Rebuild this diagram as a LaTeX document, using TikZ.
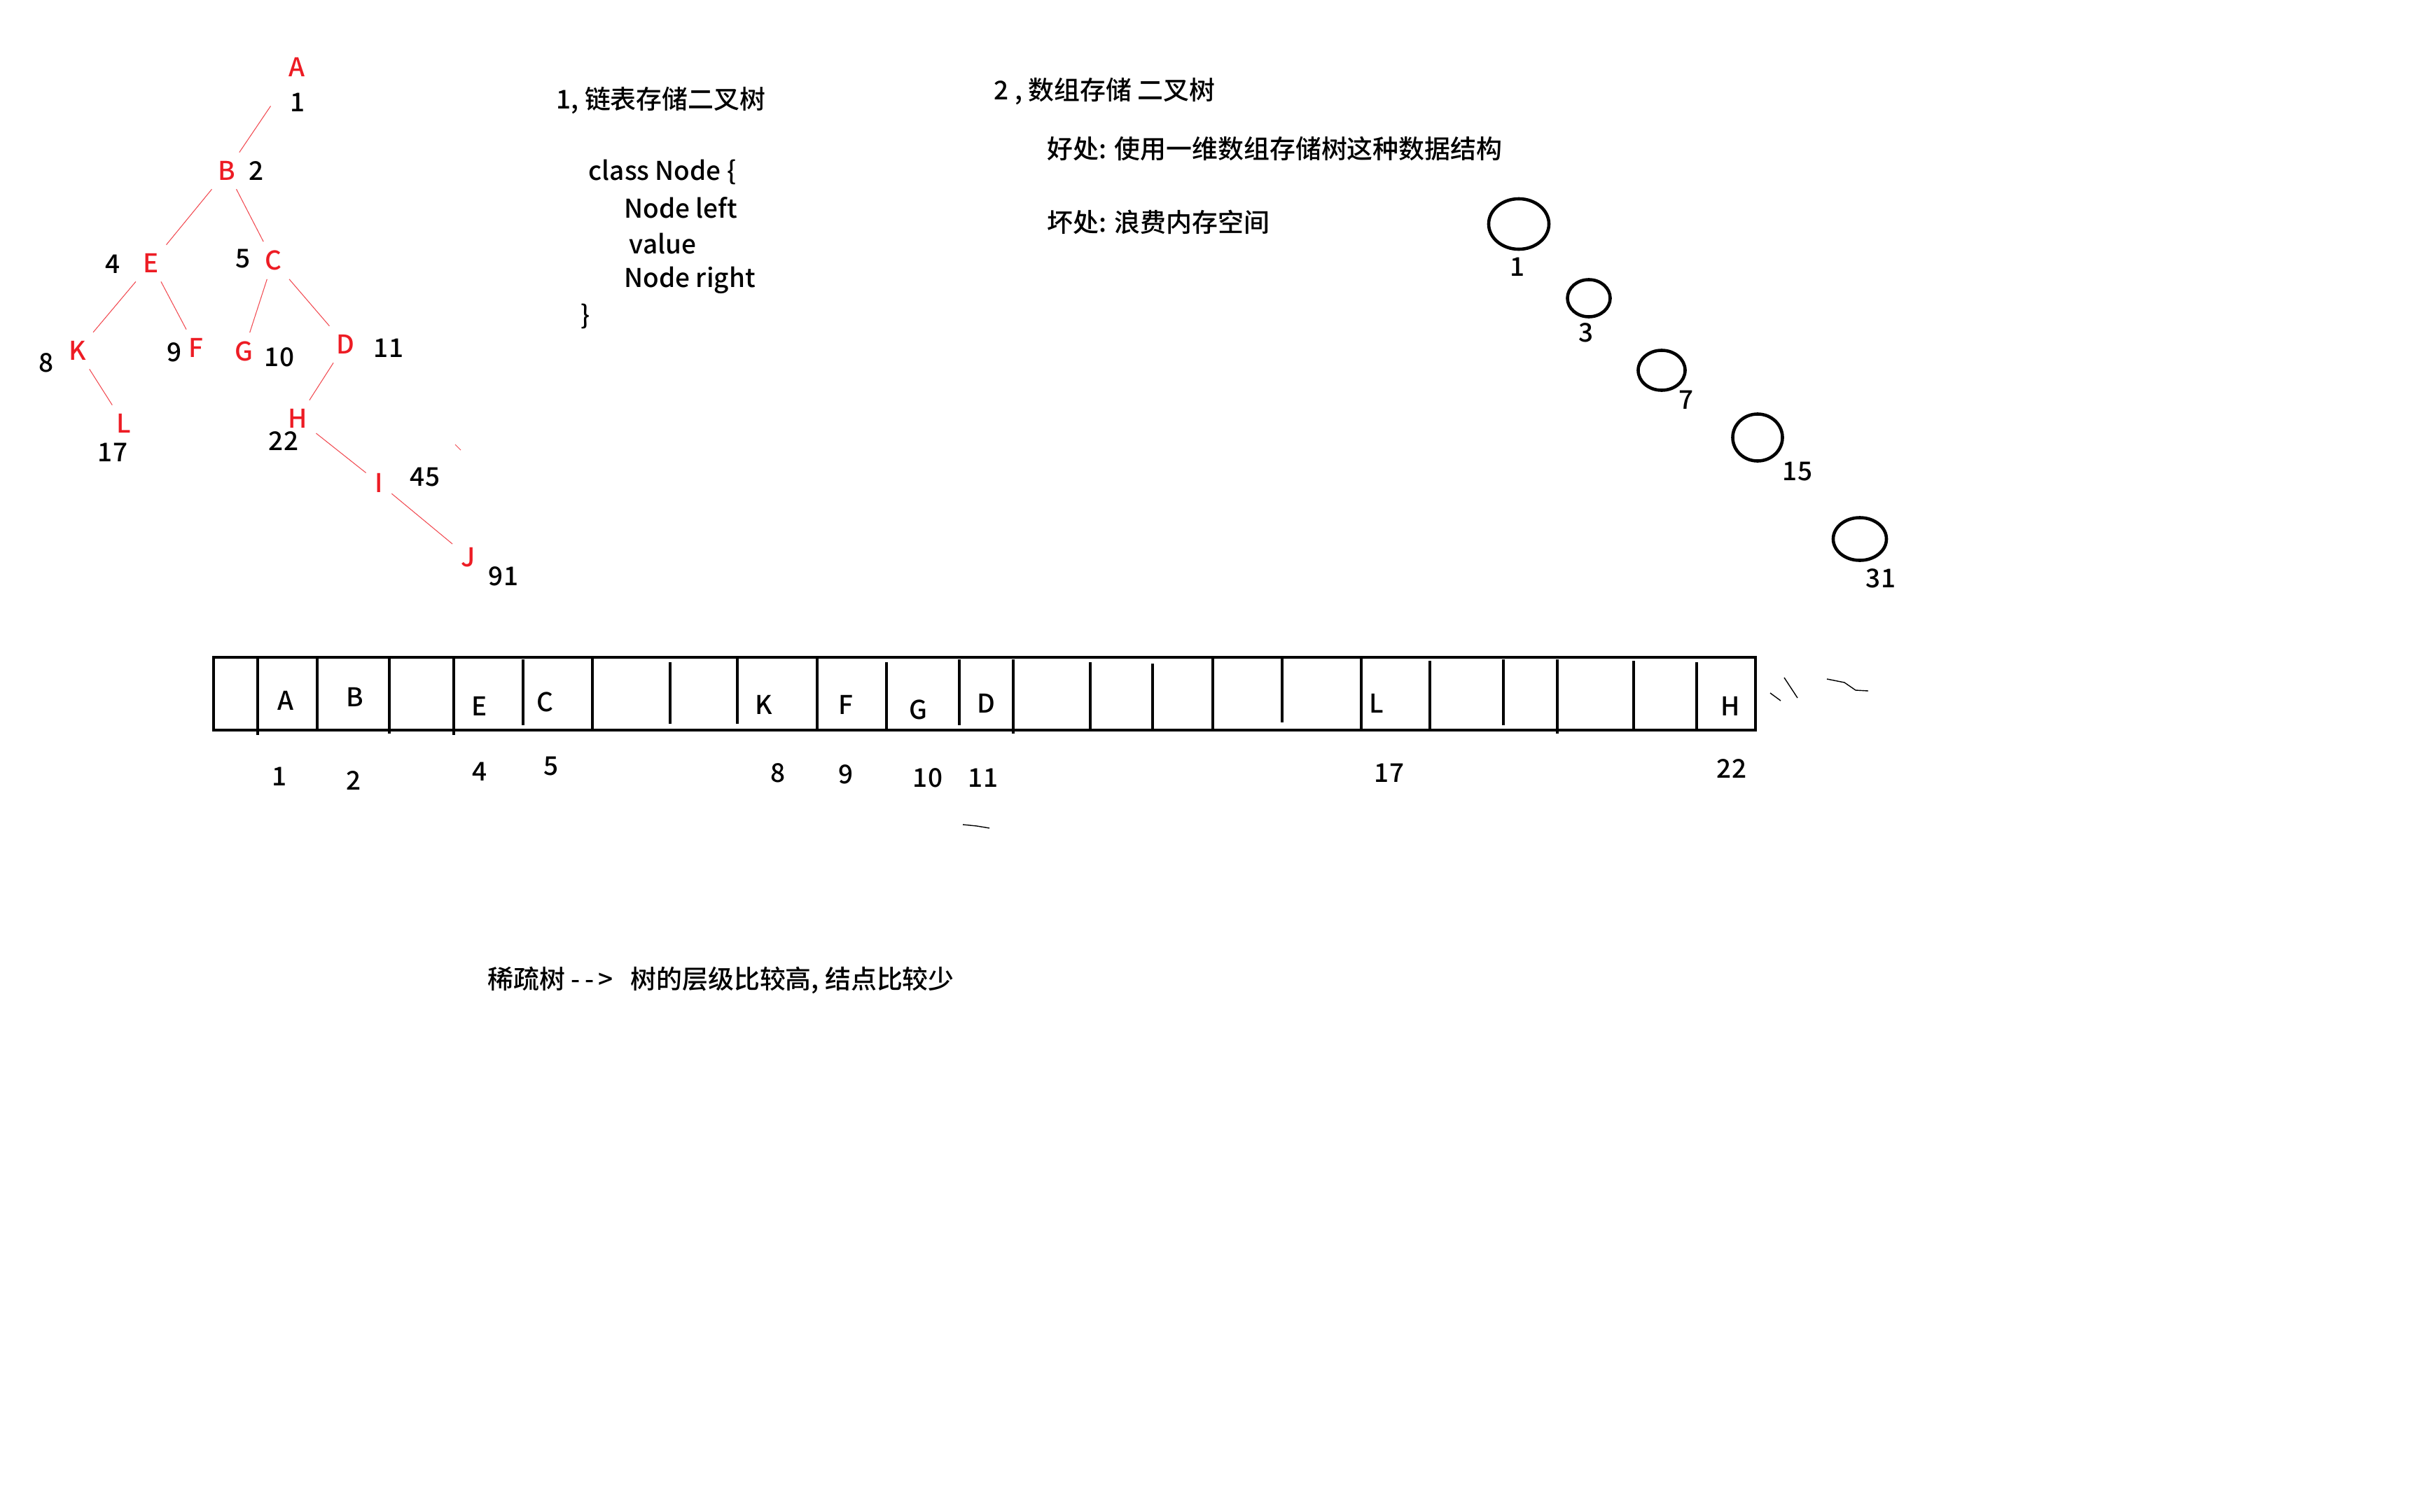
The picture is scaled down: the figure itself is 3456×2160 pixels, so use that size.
\documentclass[tikz,border=0pt]{standalone}
\usepackage{fontspec}
\setmainfont{Noto Sans CJK SC}[UprightFont=* Medium]
\usetikzlibrary{shapes.geometric}
\definecolor{treered}{RGB}{237,28,36}

\begin{document}
\begin{tikzpicture}[x=0.01cm,y=-0.01cm,
  every node/.style={font=\fontsize{10.5}{12}\selectfont,inner sep=0pt},
  vert/.style={text=treered,inner sep=0.12cm},
  edge/.style={draw=treered!80,line width=0.3pt},
  ring/.style={draw,ellipse,line width=1.3pt},
  txt/.style={anchor=west},
  frame/.style={line width=1.4pt},
  wall/.style={line width=1pt},
  scrawl/.style={line width=0.4pt}]
\useasboundingbox (0,0) rectangle (3456,2160);
% tree stored as linked nodes
\node[vert](A) at (424,96){A};
\node[vert](B) at (324,244){B};
\node[vert](E) at (216,376){E};
\node[vert](C) at (390,372){C};
\node[vert](K) at (111,501){K};
\node[vert](F) at (280,497){F};
\node[vert](G) at (348,502){G};
\node[vert](D) at (493,492){D};
\node[vert](L) at (177,605){L};
\node[vert](H) at (425,598){H};
\node[vert](I) at (541,690){I};
\node[vert](J) at (669,796){J};
\node(nA) at (425,146){1};
\node(nB) at (366,244){2};
\node(nE) at (161,377){4};
\node(nC) at (347,370){5};
\node(nK) at (66,518){8};
\node(nF) at (249,503){9};
\node(nG) at (399,510){10};
\node(nD) at (555,497){11};
\node(nL) at (161,646){17};
\node(nH) at (405,630){22};
\node(nI) at (607,682){45};
\node(nJ) at (719,823){91};
\draw[edge,shorten <=10] (A) -- (B);
\draw[edge] (B) -- (E);
\draw[edge] (B) -- (C);
\draw[edge] (E) -- (K);
\draw[edge] (E) -- (F);
\draw[edge] (C) -- (G);
\draw[edge] (C) -- (D);
\draw[edge] (K) -- (L);
\draw[edge] (D) -- (H);
\draw[edge] (H) -- (I);
\draw[edge] (I) -- (J);
\draw[edge] (650,635) -- (658,643);
% linked storage
\node[txt](t1) at (794,144){1, 链表存储二叉树};
\node[txt](t2) at (840,246){class Node \{};
\node[txt](t3) at (891,297){Node left};
\node[txt](t4) at (898,348){value};
\node[txt](t5) at (891,400){Node right};
\node[txt](t6) at (829,452){\}};
% array storage
\node[txt](s1) at (1419,131){2 , 数组存储 二叉树};
\node[txt](s2) at (1495,212){好处: 使用一维数组存储树这种数据结构};
\node[txt](s3) at (1495,317){坏处: 浪费内存空间};
\node[ring,minimum width=0.86cm,minimum height=0.72cm](r1) at (2169,320){};
\node[ring,minimum width=0.61cm,minimum height=0.53cm](r3) at (2269,426){};
\node[ring,minimum width=0.67cm,minimum height=0.57cm](r7) at (2373,529){};
\node[ring,minimum width=0.71cm,minimum height=0.67cm](r15) at (2510,625){};
\node[ring,minimum width=0.76cm,minimum height=0.61cm](r31) at (2656,770){};
\node(m1) at (2167,381){1};
\node(m3) at (2265,475){3};
\node(m7) at (2408,571){7};
\node(m15) at (2567,674){15};
\node(m31) at (2686,826){31};
% the array
\draw[frame] (305,939) rectangle (2507,1043);
\draw[wall] (368,939) -- (368,1050);
\draw[wall] (453,939) -- (453,1043);
\draw[wall] (556,939) -- (556,1048);
\draw[wall] (648,939) -- (648,1050);
\draw[wall] (747,942) -- (747,1036);
\draw[wall] (846,939) -- (846,1043);
\draw[wall] (957,946) -- (957,1034);
\draw[wall] (1053,939) -- (1053,1034);
\draw[wall] (1167,939) -- (1167,1043);
\draw[wall] (1266,946) -- (1266,1043);
\draw[wall] (1370,942) -- (1370,1036);
\draw[wall] (1447,942) -- (1447,1048);
\draw[wall] (1557,946) -- (1557,1043);
\draw[wall] (1646,948) -- (1646,1043);
\draw[frame] (1732,939) -- (1732,1043);
\draw[wall] (1831,939) -- (1831,1032);
\draw[wall] (1944,939) -- (1944,1043);
\draw[wall] (2042,944) -- (2042,1043);
\draw[wall] (2147,942) -- (2147,1036);
\draw[wall] (2224,942) -- (2224,1048);
\draw[wall] (2333,944) -- (2333,1043);
\draw[wall] (2423,946) -- (2423,1043);
\node(aA) at (408,1001){A};
\node(aB) at (507,996){B};
\node(aE) at (685,1009){E};
\node(aC) at (778,1003){C};
\node(aK) at (1091,1007){K};
\node(aF) at (1208,1007){F};
\node(aG) at (1311,1014){G};
\node(aD) at (1408,1005){D};
\node(aL) at (1966,1005){L};
\node(aH) at (2471,1009){H};
\node(i1) at (399,1109){1};
\node(i2) at (505,1115){2};
\node(i4) at (685,1102){4};
\node(i5) at (787,1095){5};
\node(i8) at (1111,1104){8};
\node(i9) at (1208,1106){9};
\node(i10) at (1325,1111){10};
\node(i11) at (1404,1111){11};
\node(i17) at (1984,1104){17};
\node(i22) at (2473,1098){22};
\draw[scrawl] (2528,990) -- (2543,1001);
\draw[scrawl] (2548,968) -- (2567,997);
\draw[scrawl] (2609,970) -- (2634,975) -- (2650,986) -- (2668,987);
\draw[scrawl] (1375,1178) -- (1395,1180) -- (1413,1183);
% sparse tree note
\node[txt](note) at (696,1400){稀疏树 -\,-\,>~~ 树的层级比较高, 结点比较少};
\end{tikzpicture}
\end{document}
